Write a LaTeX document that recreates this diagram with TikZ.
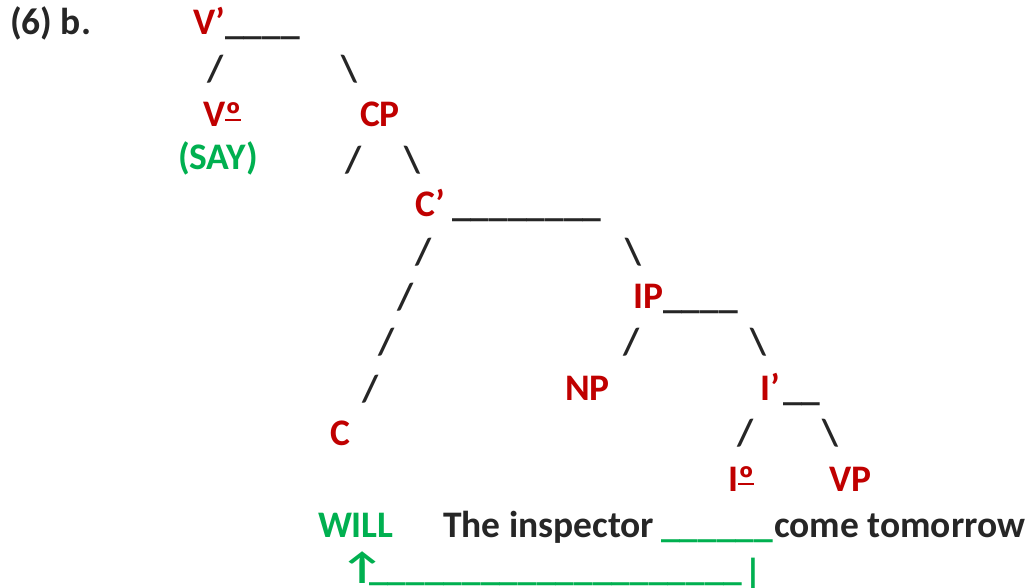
\documentclass[tikz,border=0pt]{standalone}
\usepackage{fontspec}
\setmainfont{Carlito}
\definecolor{tred}{HTML}{C00000}
\definecolor{tgreen}{HTML}{00B050}
\definecolor{tblack}{HTML}{262626}
\tikzset{
  lbl/.style={anchor=base west, inner sep=0pt, outer sep=0pt, text=tblack,
    font=\bfseries\fontsize{37.5}{45}\selectfont},
  redl/.style={lbl, text=tred},
  greenl/.style={lbl, text=tgreen},
  branch/.style={lbl, text=tblack},
}
\newcommand{\bs}{\textbackslash}
\newcommand{\ordm}{\sbox0{º}\rlap{\raisebox{-0.04em}{º}}\raisebox{0.15em}{\rule{\wd0}{0.07em}}}
\begin{document}
\begin{tikzpicture}[x=1pt,y=-1pt]
\useasboundingbox[fill=white] (0,0) rectangle (1025,588);
% row 1
\node[lbl] (six) at (10,35) {(6) b.};
\node[redl] (vbar) at (193,35) {V’};
\node[lbl] (vbarl) at (225,35) {\_\_\_\_};
% row 2
\node[branch] (s1) at (207,82) {/};
\node[branch] (s2) at (341,82) {\bs};
% row 3
\node[redl] (vzero) at (203,127) {V\ordm};
\node[redl] (cp) at (360,127) {CP};
% row 4
\node[greenl] (say) at (178,170) {(SAY)};
\node[branch] (s3) at (345,173) {/};
\node[branch] (s4) at (404,173) {\bs};
% row 5
\node[redl] (cbar) at (415,217) {C’};
\node[lbl] (cbarl) at (452,217) {\_\_\_\_\_\_\_\_};
% row 6
\node[branch] (s5) at (415,264) {/};
\node[branch] (s6) at (625,264) {\bs};
% row 7
\node[branch] (s7) at (397,309) {/};
\node[redl] (ip) at (633,308) {IP};
\node[lbl] (ipl) at (663,308) {\_\_\_\_};
% row 8
\node[branch] (s8) at (378,354) {/};
\node[branch] (s9) at (623,354) {/};
\node[branch] (s10) at (750,354) {\bs};
% row 9
\node[branch] (s11) at (362,401) {/};
\node[redl] (np) at (565,400) {NP};
\node[redl] (ibar) at (760,400) {I’};
\node[lbl] (ibarl) at (783,400) {\_\_};
% row 10
\node[redl] (c) at (330,445) {C};
\node[branch] (s12) at (737,445) {/};
\node[branch] (s13) at (822,445) {\bs};
% row 11
\node[redl] (izero) at (728,491) {I\ordm};
\node[redl] (vp) at (829,491) {VP};
% row 12
\node[greenl] (will) at (318,537) {WILL};
\node[lbl] (insp) at (443,537) {The inspector};
\node[greenl] (gap) at (661,537) {\_\_\_\_\_\_};
\node[lbl] (come) at (774,537) {come tomorrow};
% row 13
\node[greenl] (arrow) at (340,579) {\scalebox{1.3}[1]{↑}};
\node[greenl] (line) at (369,580) {\_\_\_\_\_\_\_\_\_\_\_\_\_\_\_\_\_\_\_\_};
\node[greenl] (bar) at (744,585) {|};
\end{tikzpicture}
\end{document}
